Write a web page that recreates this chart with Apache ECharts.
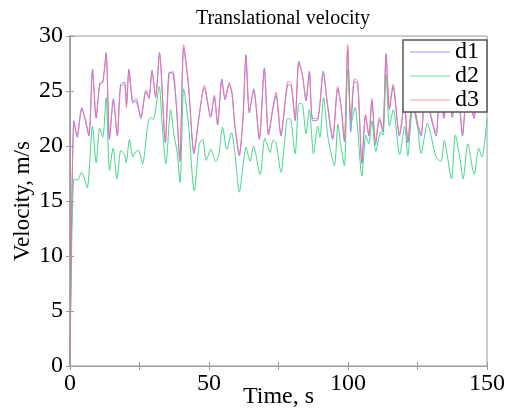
<!DOCTYPE html>
<html>
<head>
<meta charset="utf-8">
<script src="https://cdn.jsdelivr.net/npm/echarts@6/dist/echarts.min.js"></script>
<style>html,body{margin:0;padding:0;background:#fff}#c{width:506px;height:409px}</style>
</head>
<body>
<div id="c"></div>
<script>
const titleText = 'Translational velocity';
const xName = 'Time, s';
const yName = 'Velocity, m/s';
const seriesNames = ['d1', 'd2', 'd3'];
const xTickLabels = ['0', '50', '100', '150'];

// time stamps (s) for d1 and d3
const tA = [0, 1.4, 2.6, 4.2, 5.4, 6.8, 8.1, 9.4, 10.7, 11.8, 13.0, 14.2, 15.6, 17.0, 18.2, 19.6, 20.3, 21.2, 22.6, 23.8,
  25.5, 27.3, 28.4, 29.5, 30.8, 32.2, 34.3, 35.7, 37.0, 38.3, 39.5, 40.9, 42.6, 44.6, 46.5, 48.3, 50.6, 51.9, 53.1, 54.6,
  55.8, 57.3, 58.3, 59.3, 60.9, 62.2, 63.3, 64.5, 66.1, 68.1, 69.9, 71.4, 72.9, 74.1, 75.9, 78.5, 79.6, 81.0, 82.3, 83.6,
  84.9, 86.1, 87.3, 89.2, 91.1, 92.6, 94.5, 96.3, 97.5, 98.7, 99.9, 101.0, 102.3, 103.5, 105.0, 106.3, 107.5, 108.6, 109.9, 111.3,
  112.5, 113.7, 114.9, 116.2, 118.5, 120.3, 121.5, 123.2, 124.8, 126.3, 127.8, 129.5, 131.7, 133.0, 134.5, 136.0, 137.5, 139.3, 141.2, 142.8,
  144.0, 145.3, 147.0, 148.5, 150];
const d1 = [0, 22.3, 20.8, 23.5, 22.4, 20.9, 27.0, 22.5, 25.7, 25.8, 28.5, 20.6, 24.3, 20.9, 25.6, 25.8, 23.8, 27.0, 23.9, 24.3,
  22.5, 24.9, 24.3, 26.9, 24.4, 28.5, 20.3, 26.7, 26.6, 23.5, 18.6, 28.9, 25.5, 19.3, 22.9, 25.3, 22.6, 24.6, 21.9, 26.1,
  24.2, 25.6, 24.8, 21.8, 19.1, 22.5, 28.3, 23.0, 25.2, 20.6, 27.1, 21.0, 23.2, 24.6, 20.9, 25.6, 25.4, 22.3, 27.7, 26.4,
  24.1, 26.8, 22.3, 22.4, 26.8, 23.7, 20.6, 25.2, 23.5, 20.4, 28.8, 21.3, 25.9, 25.6, 18.4, 22.7, 20.9, 24.1, 20.1, 22.4,
  21.3, 28.4, 23.3, 25.4, 20.9, 23.7, 20.3, 24.0, 22.0, 20.9, 25.5, 23.0, 20.9, 25.0, 22.5, 26.0, 22.6, 25.5, 20.9, 25.0,
  24.0, 22.5, 26.0, 23.8, 24.5];
const d3 = [0, 22.1, 21.0, 23.3, 22.6, 21.1, 26.8, 22.7, 25.5, 25.9, 28.2, 20.8, 24.1, 21.1, 25.4, 25.6, 23.5, 26.8, 24.1, 24.0,
  22.7, 25.1, 24.5, 26.7, 24.6, 28.3, 20.5, 26.5, 26.8, 23.7, 18.8, 29.2, 25.7, 19.5, 22.7, 25.5, 22.8, 24.4, 22.1, 25.9,
  24.4, 25.8, 24.6, 22.0, 19.3, 22.3, 28.1, 23.2, 25.0, 20.8, 26.9, 21.2, 23.4, 24.9, 21.1, 25.9, 25.6, 22.5, 27.5, 26.6,
  24.3, 26.6, 22.5, 22.6, 26.6, 23.9, 20.8, 25.4, 23.7, 20.6, 29.2, 22.4, 26.1, 25.9, 18.6, 22.9, 21.1, 24.3, 20.4, 22.6,
  21.5, 28.2, 23.5, 25.6, 21.1, 23.9, 20.6, 24.2, 22.3, 21.1, 25.7, 23.2, 21.2, 25.2, 22.7, 26.2, 22.8, 25.7, 21.2, 25.2,
  24.2, 22.7, 26.2, 24.0, 24.7];

// time stamps (s) for d2
const tB = [0, 1.4, 2.8, 4.1, 5.0, 6.2, 8.1, 9.4, 10.7, 11.8, 13.0, 14.2, 15.5, 16.9, 18.3, 19.6, 20.2, 21.4, 22.6, 23.7,
  24.6, 26.1, 27.9, 28.9, 29.9, 32.1, 33.0, 34.5, 36.2, 37.4, 38.5, 39.6, 40.9, 42.6, 44.7, 46.5, 47.7, 49.0, 50.7, 52.4,
  53.5, 54.9, 56.4, 58.1, 59.3, 60.9, 62.4, 63.3, 64.8, 66.0, 68.4, 70.1, 72.0, 73.0, 74.1, 75.9, 78.3, 79.4, 81.0, 82.4,
  83.6, 84.9, 86.1, 87.6, 89.1, 89.9, 91.2, 92.8, 95.1, 96.4, 97.3, 98.7, 99.9, 101.2, 102.5, 105.0, 106.4, 107.5, 108.6, 110.0,
  111.8, 112.6, 113.7, 114.9, 116.3, 118.6, 120.4, 121.5, 123.3, 124.6, 126.3, 128.6, 129.8, 131.7, 133.5, 134.6, 137.2, 138.6, 140.2, 141.4,
  143.1, 145.4, 147.0, 148.2, 150];
const d2 = [0, 17.0, 16.9, 17.6, 17.2, 16.2, 21.8, 18.5, 21.6, 20.8, 24.4, 17.8, 19.8, 17.0, 19.6, 19.2, 18.5, 20.6, 19.0, 19.5,
  19.6, 18.4, 21.8, 22.6, 22.4, 25.4, 22.5, 18.4, 23.3, 21.0, 19.5, 16.7, 25.2, 22.0, 15.9, 20.2, 20.6, 18.7, 19.7, 18.6,
  19.2, 21.7, 19.7, 21.2, 19.4, 15.8, 18.5, 19.9, 18.6, 20.0, 17.4, 20.7, 19.4, 20.5, 20.3, 17.6, 22.5, 22.4, 19.3, 23.9,
  23.8, 21.1, 23.3, 19.3, 21.8, 20.8, 24.4, 20.8, 18.2, 22.0, 20.3, 18.2, 27.0, 22.1, 23.5, 17.3, 21.0, 20.2, 22.3, 19.5,
  21.3, 21.0, 26.5, 21.8, 23.3, 19.2, 21.8, 19.1, 23.4, 22.8, 19.3, 22.1, 21.0, 19.0, 18.6, 20.5, 17.0, 21.0, 19.0, 17.0,
  20.2, 17.4, 19.8, 19.0, 22.5];

const font = 'Liberation Serif, Times New Roman, serif';
const axisGray = '#9a9a9a';
const chart = echarts.init(document.getElementById('c'));
const mk = (ts, vs) => ts.map((t, i) => [t, vs[i]]);
const axCommon = {
  type: 'value', splitLine: { show: false },
  axisLine: { show: true, lineStyle: { color: axisGray, width: 1 } },
  axisTick: { show: true, inside: true, length: 4, lineStyle: { color: axisGray } }
};
chart.setOption({
  animation: false,
  backgroundColor: '#fff',
  title: { text: titleText, left: 278, top: 4, textAlign: 'center',
    textStyle: { fontFamily: font, fontSize: 20, fontWeight: 'normal', color: '#000' } },
  grid: { left: 70, right: 19, top: 36, bottom: 43, show: true, borderColor: axisGray, borderWidth: 1,
    containLabel: false, outerBoundsMode: 'none' },
  legend: {
    data: seriesNames, orient: 'vertical', right: 19, top: 40,
    backgroundColor: '#fff', borderColor: '#555', borderWidth: 1.5,
    padding: [0, 8, 0, 7], icon: 'rect', itemWidth: 40, itemHeight: 1, itemGap: 0,
    textStyle: { fontFamily: font, fontSize: 24, color: '#000', lineHeight: 21 }
  },
  xAxis: [
    Object.assign({}, axCommon, { min: 0, max: 150, interval: 25, position: 'bottom',
      axisLabel: { fontFamily: font, fontSize: 24, color: '#000', margin: 6,
        formatter: v => (xTickLabels.indexOf(String(v)) >= 0 ? String(v) : '') },
      name: xName, nameLocation: 'middle', nameGap: 19, nameMoveOverlap: false,
      nameTextStyle: { fontFamily: font, fontSize: 24, color: '#000' } }),
    Object.assign({}, axCommon, { min: 0, max: 150, interval: 25, position: 'top', axisLabel: { show: false } })
  ],
  yAxis: [
    Object.assign({}, axCommon, { min: 0, max: 30, interval: 5, position: 'left',
      axisLine: { show: true, lineStyle: { color: '#aaa', width: 2 } },
      axisLabel: { fontFamily: font, fontSize: 24, color: '#000', margin: 7 },
      name: yName, nameLocation: 'middle', nameGap: 36, nameRotate: 90, nameMoveOverlap: false,
      nameTextStyle: { fontFamily: font, fontSize: 23, color: '#000' } }),
    Object.assign({}, axCommon, { min: 0, max: 30, interval: 5, position: 'right', axisLabel: { show: false } })
  ],
  series: [
    { name: seriesNames[0], type: 'line', data: mk(tA, d1), symbol: 'none', smooth: 0.25,
      lineStyle: { width: 1, color: '#8080ff' }, itemStyle: { color: '#9a9aff' }, z: 2 },
    { name: seriesNames[1], type: 'line', data: mk(tB, d2), symbol: 'none', smooth: 0.25,
      lineStyle: { width: 1, color: '#45d68a' }, itemStyle: { color: '#6fe0a5' }, z: 2 },
    { name: seriesNames[2], type: 'line', data: mk(tA, d3), symbol: 'none', smooth: 0.25,
      lineStyle: { width: 1, color: '#ff7090', opacity: 0.85 }, itemStyle: { color: '#ff9aa5' }, z: 3 }
  ]
});
</script>
</body>
</html>
